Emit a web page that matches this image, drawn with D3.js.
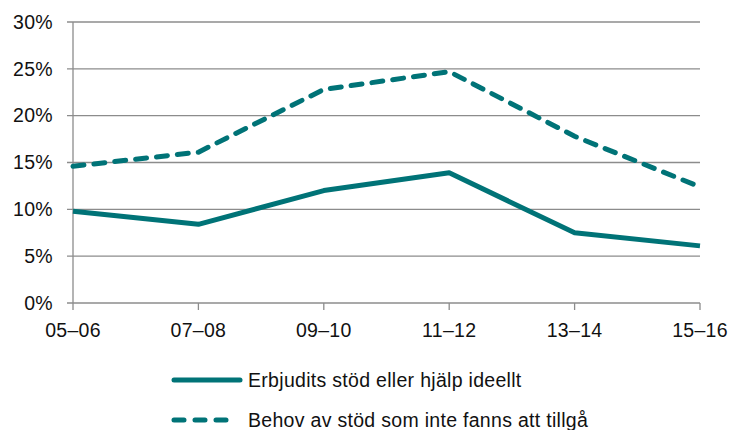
<!DOCTYPE html>
<html>
<head>
<meta charset="utf-8">
<script src="https://cdn.jsdelivr.net/npm/d3@7"></script>
<style>
  body { margin: 0; background: #fff; }
  text { font-family: "Liberation Sans", Arial, sans-serif; fill: #111; letter-spacing: 0.3px; }
</style>
</head>
<body>
<div id="chart"></div>
<script>
const periods = ["05–06", "07–08", "09–10", "11–12", "13–14", "15–16"];
const erbjudits = [9.8, 8.4, 12.0, 13.9, 7.5, 6.1];
const behov = [14.6, 16.1, 22.8, 24.7, 17.8, 12.4];
const yTicks = [0, 5, 10, 15, 20, 25, 30];
const seriesNames = ["Erbjudits stöd eller hjälp ideellt", "Behov av stöd som inte fanns att tillgå"];

const W = 733, H = 430;
const margin = { top: 22, right: 33, bottom: 127, left: 73 };
const width = W - margin.left - margin.right,
  height = H - margin.top - margin.bottom;
const teal = "#007377", grid = "#8c8c8c";

const svg = d3.select("#chart").append("svg")
  .attr("width", W)
  .attr("height", H);
const g = svg.append("g")
  .attr("transform", `translate(${margin.left},${margin.top})`);

const x = d3.scalePoint().domain(periods).range([0, width]);
const y = d3.scaleLinear().domain([0, 30]).range([height, 0]);

// gridlines + left ticks
g.selectAll(".grid")
  .data(yTicks)
  .join("line")
  .attr("x1", -6)
  .attr("x2", width)
  .attr("y1", d => y(d))
  .attr("y2", d => y(d))
  .attr("stroke", grid)
  .attr("stroke-width", 1.3);

g.append("line")
  .attr("x1", 0).attr("x2", 0)
  .attr("y1", 0).attr("y2", height)
  .attr("stroke", grid)
  .attr("stroke-width", 1.3);

// bottom tick marks
g.selectAll(".xtick")
  .data(periods)
  .join("line")
  .attr("x1", d => x(d)).attr("x2", d => x(d))
  .attr("y1", height).attr("y2", height + 7)
  .attr("stroke", grid)
  .attr("stroke-width", 1.3);

g.selectAll(".ylab")
  .data(yTicks)
  .join("text")
  .attr("x", -20)
  .attr("y", d => y(d))
  .attr("dy", "0.35em")
  .attr("text-anchor", "end")
  .style("font-size", "19.5px")
  .text(d => d + "%");

g.selectAll(".xlab")
  .data(periods)
  .join("text")
  .attr("x", d => x(d))
  .attr("y", height + 34)
  .attr("text-anchor", "middle")
  .style("font-size", "19.5px")
  .text(d => d);

const line = d3.line()
  .x((d, i) => x(periods[i]))
  .y(d => y(d));

g.append("path")
  .datum(erbjudits)
  .attr("d", line)
  .attr("fill", "none")
  .attr("stroke", teal)
  .attr("stroke-width", 5)
  .attr("stroke-linejoin", "round");

g.append("path")
  .datum(behov)
  .attr("d", line)
  .attr("fill", "none")
  .attr("stroke", teal)
  .attr("stroke-width", 5)
  .attr("stroke-dasharray", "11,10")
  .attr("stroke-linecap", "round");

// legend
const legend = svg.append("g").attr("transform", "translate(174,380)");
[0, 1].forEach(i => {
  const row = legend.append("g").attr("transform", `translate(0,${i * 40})`);
  row.append("line")
    .attr("x1", 0).attr("x2", i === 0 ? 66 : 56)
    .attr("y1", 0).attr("y2", 0)
    .attr("stroke", teal)
    .attr("stroke-width", 5)
    .attr("stroke-linecap", "round")
    .attr("stroke-dasharray", i === 0 ? null : "10,11");
  row.append("text")
    .attr("x", 74)
    .attr("y", 0)
    .attr("dy", "0.35em")
    .style("font-size", "19.5px")
    .text(seriesNames[i]);
});
</script>
</body>
</html>
